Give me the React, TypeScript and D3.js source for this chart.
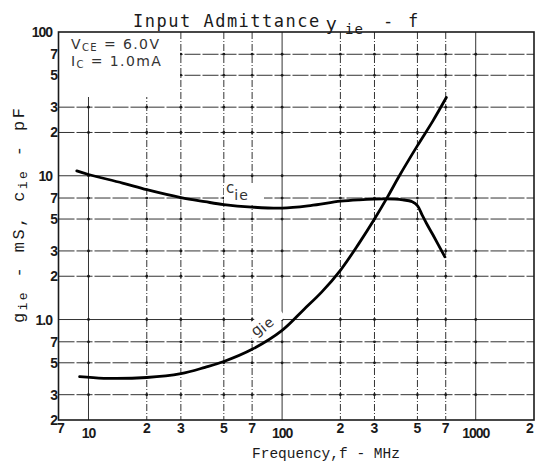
import * as d3 from 'd3';

const WIDTH = 535;
const HEIGHT = 468;

// axis ticks and their printed labels
const FREQ_TICKS = [7, 10, 20, 30, 50, 70, 100, 200, 300, 500, 700, 1000, 2000];
const FREQ_LABELS = ['7', '10', '2', '3', '5', '7', '100', '2', '3', '5', '7', '1000', '2'];
const Y_TICKS = [0.2, 0.3, 0.5, 0.7, 1, 2, 3, 5, 7, 10, 20, 30, 50, 70, 100];
const Y_LABELS = ['2', '3', '5', '7', '1.0', '2', '3', '5', '7', '10', '2', '3', '5', '7', '100'];

// c_ie (pF) vs frequency (MHz)
const CIE_FREQ = [8.7, 10, 15, 20, 30, 40, 50, 70, 100, 140, 200, 250, 340, 420, 470, 500, 530, 560, 600, 693];
const CIE_VAL = [10.8, 10.2, 8.9, 8.0, 7.05, 6.6, 6.3, 6.05, 5.95, 6.2, 6.65, 6.8, 6.9, 6.8, 6.6, 6.2, 5.3, 4.6, 3.9, 2.73];

// g_ie (mS) vs frequency (MHz)
const GIE_FREQ = [9, 12, 20, 30, 40, 50, 70, 100, 130, 160, 200, 250, 300, 350, 400, 500, 600, 705];
const GIE_VAL = [0.4, 0.39, 0.395, 0.42, 0.465, 0.51, 0.62, 0.84, 1.18, 1.55, 2.2, 3.4, 5.0, 7.1, 9.8, 16.2, 24, 35];

const INK = '#1a1a1a';
const GRID = '#333';

export default function App() {
  const x = d3.scaleLog().domain([7, 2000]).range([58.5, 534]);
  const y = d3.scaleLog().domain([0.2, 100]).range([420, 32]);

  const line = d3
    .line<[number, number]>()
    .x((d) => x(d[0]))
    .y((d) => y(d[1]))
    .curve(d3.curveCatmullRom.alpha(0.5));

  const ciePath = line(CIE_FREQ.map((f, i) => [f, CIE_VAL[i]] as [number, number]));
  const giePath = line(GIE_FREQ.map((f, i) => [f, GIE_VAL[i]] as [number, number]));

  const vGrid = FREQ_TICKS.slice(1, -1);
  const hGrid = Y_TICKS.slice(1, -1);
  const isDecade = (v: number) => Math.abs(Math.log10(v) - Math.round(Math.log10(v))) < 1e-6;

  const left = x(7);
  const right = x(2000);
  const top = y(100);
  const bottom = y(0.2);

  return (
    <svg
      width={WIDTH}
      height={HEIGHT}
      style={{ position: 'absolute', left: 0, top: 0, background: '#fff' }}
    >
      {/* grid */}
      {hGrid.map((v) => (
        <line
          key={'h' + v}
          x1={left}
          x2={right}
          y1={y(v)}
          y2={y(v)}
          stroke={GRID}
          strokeWidth={1}
          strokeDasharray={isDecade(v) ? undefined : '16,2'}
        />
      ))}
      {vGrid.map((v) => (
        <line
          key={'v' + v}
          x1={x(v)}
          x2={x(v)}
          y1={top}
          y2={bottom}
          stroke={GRID}
          strokeWidth={1}
          strokeDasharray={isDecade(v) ? undefined : '7,2,1,2'}
        />
      ))}
      {vGrid.map((fv) =>
        hGrid.map((hv) => (
          <circle key={fv + '-' + hv} cx={x(fv)} cy={y(hv)} r={1.4} fill={INK} />
        ))
      )}

      {/* blank areas behind the notes */}
      <rect x={left} y={top} width={180 - left} height={97 - top} fill="#fff" />
      <rect x={224} y={183} width={40} height={22} fill="#fff" />
      <rect
        x={-2}
        y={-14}
        width={40}
        height={18}
        fill="#fff"
        transform="translate(254,338) rotate(-40)"
      />

      {/* frame */}
      <rect x={left} y={top} width={right - left} height={bottom - top} fill="none" stroke={INK} strokeWidth={1.6} />

      {/* curves */}
      <path d={ciePath!} fill="none" stroke="#000" strokeWidth={2.8} strokeLinejoin="round" strokeLinecap="round" />
      <path d={giePath!} fill="none" stroke="#000" strokeWidth={2.8} strokeLinejoin="round" strokeLinecap="round" />

      {/* y tick labels */}
      {Y_TICKS.map((v, i) => {
        const lab = Y_LABELS[i];
        const decade = lab.length > 1;
        return (
          <text
            key={'yl' + v}
            x={decade ? 52 : 58}
            y={y(v)}
            textAnchor="end"
            dominantBaseline="central"
            fontFamily="Liberation Sans"
            fontSize={14}
            fontWeight="bold"
            letterSpacing={decade ? -1 : 0}
            fill={INK}
          >
            {lab}
          </text>
        );
      })}

      {/* x tick labels */}
      {FREQ_TICKS.map((v, i) => {
        const lab = FREQ_LABELS[i];
        const decade = lab.length > 1;
        const last = i === FREQ_TICKS.length - 1;
        return (
          <text
            key={'xl' + v}
            x={i === 0 ? x(v) + 2.5 : last ? x(v) - 4 : x(v)}
            y={decade ? 438 : 433}
            textAnchor="middle"
            fontFamily="Liberation Sans"
            fontSize={14}
            fontWeight="bold"
            letterSpacing={decade ? -1 : 0}
            fill={INK}
          >
            {lab}
          </text>
        );
      })}

      {/* title */}
      <text x={133} y={27} fontFamily="DejaVu Sans Mono" fontSize={17} letterSpacing={1.5} fill={INK}>
        Input Admittance
      </text>
      <text x={326} y={30} fontFamily="DejaVu Sans" fontSize={18} fill={INK}>
        y
      </text>
      <text x={345} y={34} fontFamily="DejaVu Sans Mono" fontSize={14} letterSpacing={1} fill={INK}>
        ie
      </text>
      <text x={383} y={27} fontFamily="DejaVu Sans Mono" fontSize={17} fill={INK}>
        -
      </text>
      <text x={408} y={27} fontFamily="DejaVu Sans Mono" fontSize={17} fill={INK}>
        f
      </text>

      {/* conditions */}
      <text x={71} y={49} fontFamily="DejaVu Sans" fontSize={14} letterSpacing={1.4} fill="#333">
        V<tspan fontSize={10} dy={2}>CE</tspan>
        <tspan dy={-2}> = 6.0V</tspan>
      </text>
      <text x={71} y={66} fontFamily="DejaVu Sans" fontSize={14} letterSpacing={1.4} fill="#333">
        I<tspan fontSize={10} dy={2}>C</tspan>
        <tspan dy={-2}> = 1.0mA</tspan>
      </text>

      {/* curve labels */}
      <text x={226} y={193} fontFamily="DejaVu Sans" fontSize={15} fill="#333">
        c<tspan fontSize={14} dy={7} letterSpacing={1}>ie</tspan>
      </text>
      <text
        x={0}
        y={0}
        transform="translate(256,337) rotate(-40)"
        fontFamily="DejaVu Sans"
        fontSize={15}
        fill="#333"
      >
        g<tspan fontSize={14} dy={2} letterSpacing={1}>ie</tspan>
      </text>

      {/* axis titles */}
      <text x={252} y={458} fontFamily="Liberation Mono" fontSize={14.5} fill={INK}>
        Frequency,f - MHz
      </text>
      <text
        transform="rotate(-90)"
        x={-323}
        y={24}
        fontFamily="Liberation Mono"
        fontSize={17}
        letterSpacing={2.4}
        fill={INK}
      >
        g<tspan fontSize={13} dy={3}>ie</tspan>
        <tspan dy={-3}> - mS, c</tspan>
        <tspan fontSize={13} dy={3}>ie</tspan>
        <tspan dy={-3}> - pF</tspan>
      </text>
    </svg>
  );
}
